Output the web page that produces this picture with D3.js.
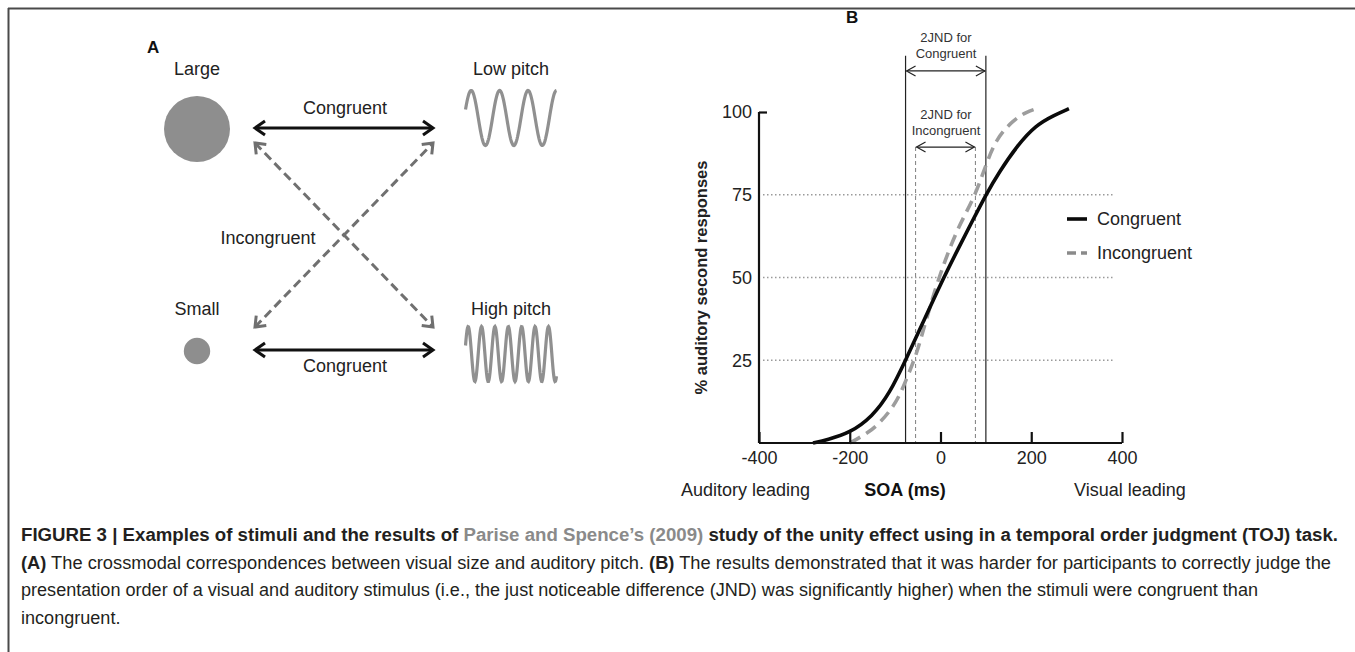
<!DOCTYPE html>
<html>
<head>
<meta charset="utf-8">
<script src="https://cdn.jsdelivr.net/npm/d3@7"></script>
<style>
body { margin: 0; background: #fff; }
svg { display: block; font-family: "Liberation Sans", Arial, sans-serif; }
</style>
</head>
<body>
<svg></svg>
<script>
const width = 1355;
const height = 652;

// panel A: stimuli
const visualLabels = ['Large', 'Small'];
const auditoryLabels = ['Low pitch', 'High pitch'];
const visualSize = [1, 0.4];
const pitchCycles = [3.2, 6.8];
const pairFrom = [0, 1, 0, 1];
const pairTo = [0, 1, 1, 0];
const pairType = ['Congruent', 'Congruent', 'Incongruent', 'Incongruent'];

// panel B: psychometric curves
const xTicks = [-400, -200, 0, 200, 400];
const yTicks = [25, 50, 75, 100];
const gridTicks = [25, 50, 75];
const congruentSOA = [-281, -250, -200, -150, -112, -77, -40, 0, 40, 70, 100, 130, 170, 210, 250, 283];
const congruentPct = [0, 1, 3, 8, 15, 25, 36, 48, 59, 67, 75, 82, 90, 96, 99, 101];
const incongruentSOA = [-200, -160, -134, -97, -73, -55, -40, -9, 26, 50, 77, 100, 123, 160, 189, 211];
const incongruentPct = [0, 3, 6, 12, 20, 26, 33, 48, 61, 68, 75, 84, 92, 97.5, 100, 101];
const jndCongruent = [-77, 100];
const jndIncongruent = [-55, 77];
const seriesNames = ['Congruent', 'Incongruent'];

const captionLines = [
    [['FIGURE 3 | Examples of stimuli and the results of ', 'b'], ['Parise and Spence\u2019s (2009)', 'c'], [' study of the unity effect using in a temporal order judgment (TOJ) task.', 'b']],
    [['(A)', 'b'], [' The crossmodal correspondences between visual size and auditory pitch. ', 'n'], ['(B)', 'b'], [' The results demonstrated that it was harder for participants to correctly judge the', 'n']],
    [['presentation order of a visual and auditory stimulus (i.e., the just noticeable difference (JND) was significantly higher) when the stimuli were congruent than', 'n']],
    [['incongruent.', 'n']]
];
const captionEnds = [1338, 1331, 1258, null];

const svg = d3.select('svg').attr('width', width).attr('height', height);

// frame
svg.append('line').attr('x1', 8).attr('x2', width).attr('y1', 8.5).attr('y2', 8.5)
    .attr('stroke', '#4a4a4a').attr('stroke-width', 2);
svg.append('line').attr('x1', 8.5).attr('x2', 8.5).attr('y1', 8).attr('y2', height)
    .attr('stroke', '#4a4a4a').attr('stroke-width', 2);

const defs = svg.append('defs');
const addHead = (id, color, w, len, half) => {
    defs.append('marker')
        .attr('id', id)
        .attr('viewBox', `${-len - 3} ${-half - 3} ${len + 6} ${2 * half + 6}`)
        .attr('refX', 0).attr('refY', 0)
        .attr('markerWidth', len + 6).attr('markerHeight', 2 * half + 6)
        .attr('markerUnits', 'userSpaceOnUse')
        .attr('orient', 'auto-start-reverse')
        .append('path')
        .attr('d', `M${-len},${-half}L0,0L${-len},${half}`)
        .attr('fill', 'none').attr('stroke', color).attr('stroke-width', w)
        .attr('stroke-linejoin', 'miter');
};
addHead('hBlack', '#111', 3, 10, 7);
addHead('hGray', '#707070', 3, 9, 7);
addHead('hThin', '#222', 1.2, 9, 5);

// ---------- panel A ----------
const gA = svg.append('g');
gA.append('text').attr('x', 147).attr('y', 53).text('A')
    .attr('font-weight', 'bold').attr('font-size', 17).attr('fill', '#111');

const colX = d3.scalePoint().domain(['visual', 'auditory']).range([197, 511]);
const arrowX = d3.scalePoint().domain(['visual', 'auditory']).range([255, 433]);
const rowY = d3.scalePoint().domain([0, 1]).range([128, 350]);
const diagY = d3.scalePoint().domain([0, 1]).range([143, 327]);
const labelY = d3.scalePoint().domain([0, 1]).range([69, 309]);
const waveY = d3.scalePoint().domain([0, 1]).range([118, 354]);
const rScale = d3.scaleLinear().domain([0, 1]).range([0, 33]);

gA.selectAll('circle.stim').data(visualSize).enter().append('circle')
    .attr('cx', colX('visual'))
    .attr('cy', (d, i) => rowY(i) + 1)
    .attr('r', d => rScale(d))
    .attr('fill', '#8e8e8e');

gA.selectAll('text.vis').data(visualLabels).enter().append('text')
    .attr('x', colX('visual')).attr('y', (d, i) => labelY(i))
    .attr('dy', '0.35em').attr('text-anchor', 'middle')
    .attr('font-size', 18).attr('fill', '#222').text(d => d);

gA.selectAll('text.aud').data(auditoryLabels).enter().append('text')
    .attr('x', colX('auditory')).attr('y', (d, i) => labelY(i))
    .attr('dy', '0.35em').attr('text-anchor', 'middle')
    .attr('font-size', 18).attr('fill', '#222').text(d => d);

// tone glyphs
const waveW = 91;
pitchCycles.forEach((cyc, i) => {
    const pts = d3.range(0, waveW + 0.5, 0.5).map(t => {
        const ph = 2 * Math.PI * cyc * t / waveW + Math.PI * 0.1;
        return [colX('auditory') - waveW / 2 + t, waveY(i) - 27.5 * Math.sin(ph)];
    });
    gA.append('path').attr('d', d3.line()(pts))
        .attr('fill', 'none').attr('stroke', '#909090').attr('stroke-width', 3.2);
});

// pairing arrows
pairType.forEach((t, i) => {
    const straight = pairFrom[i] === pairTo[i];
    const y1 = straight ? rowY(pairFrom[i]) : diagY(pairFrom[i]);
    const y2 = straight ? rowY(pairTo[i]) : diagY(pairTo[i]);
    gA.append('line')
        .attr('x1', arrowX('visual')).attr('y1', y1)
        .attr('x2', arrowX('auditory')).attr('y2', y2)
        .attr('stroke', straight ? '#111' : '#707070')
        .attr('stroke-width', 3)
        .attr('stroke-dasharray', straight ? null : '9,5')
        .attr('marker-start', straight ? 'url(#hBlack)' : 'url(#hGray)')
        .attr('marker-end', straight ? 'url(#hBlack)' : 'url(#hGray)');
});
gA.append('text').attr('x', 345).attr('y', rowY(0) - 20).attr('dy', '0.35em')
    .attr('text-anchor', 'middle').attr('font-size', 18).attr('fill', '#222').text(pairType[0]);
gA.append('text').attr('x', 345).attr('y', rowY(1) + 16).attr('dy', '0.35em')
    .attr('text-anchor', 'middle').attr('font-size', 18).attr('fill', '#222').text(pairType[1]);
gA.append('text').attr('x', 268).attr('y', 238).attr('dy', '0.35em')
    .attr('text-anchor', 'middle').attr('font-size', 18).attr('fill', '#222').text(pairType[2]);

// ---------- panel B ----------
const x = d3.scaleLinear().domain([-400, 400]).range([759, 1122]);
const y = d3.scaleLinear().domain([0, 100]).range([443, 112]);
const gB = svg.append('g');

gB.append('text').attr('x', 846).attr('y', 23).text('B')
    .attr('font-weight', 'bold').attr('font-size', 17).attr('fill', '#111');

// dotted grid
gB.selectAll('line.grid').data(gridTicks).enter().append('line')
    .attr('x1', x(-400) + 4).attr('x2', x(380))
    .attr('y1', d => y(d)).attr('y2', d => y(d))
    .attr('stroke', '#9a9a9a').attr('stroke-width', 1.3)
    .attr('stroke-dasharray', '1.5,2.5');

// JND lines
gB.selectAll('line.jc').data(jndCongruent).enter().append('line')
    .attr('x1', d => x(d)).attr('x2', d => x(d))
    .attr('y1', y(117)).attr('y2', y(0))
    .attr('stroke', '#222').attr('stroke-width', 1.2);
gB.selectAll('line.ji').data(jndIncongruent).enter().append('line')
    .attr('x1', d => x(d)).attr('x2', d => x(d))
    .attr('y1', y(89.4)).attr('y2', y(0))
    .attr('stroke', '#8a8a8a').attr('stroke-width', 1.1)
    .attr('stroke-dasharray', '4,3');
gB.append('line')
    .attr('x1', x(jndCongruent[0]) + 1).attr('x2', x(jndCongruent[1]) - 1)
    .attr('y1', y(112.4)).attr('y2', y(112.4))
    .attr('stroke', '#222').attr('stroke-width', 1.2)
    .attr('marker-start', 'url(#hThin)').attr('marker-end', 'url(#hThin)');
gB.append('line')
    .attr('x1', x(jndIncongruent[0]) + 1).attr('x2', x(jndIncongruent[1]) - 1)
    .attr('y1', y(89.4)).attr('y2', y(89.4))
    .attr('stroke', '#222').attr('stroke-width', 1.2)
    .attr('marker-start', 'url(#hThin)').attr('marker-end', 'url(#hThin)');

const jndText = (cx, cy, lines) => {
    lines.forEach((l, i) => {
        gB.append('text').attr('x', cx).attr('y', cy + i * 16).attr('dy', '0.35em')
            .attr('text-anchor', 'middle').attr('font-size', 13).attr('fill', '#333').text(l);
    });
};
jndText(946, 37, ['2JND  for', seriesNames[0]]);
jndText(946, 114, ['2JND  for', seriesNames[1]]);

// curves
const line = d3.line().x(d => x(d[0])).y(d => y(d[1])).curve(d3.curveBasis);
gB.append('path')
    .attr('d', line(d3.zip(incongruentSOA, incongruentPct)))
    .attr('fill', 'none').attr('stroke', '#9d9d9d').attr('stroke-width', 3.6)
    .attr('stroke-dasharray', '12,7');
gB.append('path')
    .attr('d', line(d3.zip(congruentSOA, congruentPct)))
    .attr('fill', 'none').attr('stroke', '#0a0a0a').attr('stroke-width', 3.6);

// axes
const xAxis = d3.axisBottom(x).tickValues(xTicks).tickFormat(d => String(d))
    .tickSize(-11).tickSizeOuter(0).tickPadding(8);
const yAxis = d3.axisLeft(y).tickValues(yTicks).tickFormat(d => String(d))
    .tickSize(-8).tickSizeOuter(0).tickPadding(7);

const gx = gB.append('g').attr('transform', `translate(0,${y(0)})`).call(xAxis);
const gy = gB.append('g').attr('transform', `translate(${x(-400)},0)`).call(yAxis);
[gx, gy].forEach(g => {
    g.select('.domain').attr('stroke', '#111').attr('stroke-width', 2.2);
    g.selectAll('.tick line').attr('stroke', '#111').attr('stroke-width', 2.2);
    g.selectAll('.tick text').attr('font-size', 18).attr('fill', '#222')
        .attr('font-family', '"Liberation Sans", Arial, sans-serif');
});
gy.selectAll('.tick').filter(d => d !== 100).select('line').remove();
gy.select('.domain').attr('d', `M0,${y(0)}V${y(100)}`);
gx.select('.domain').attr('d', `M${x(-400)},0H${x(400)}`);

gB.append('text')
    .attr('transform', `translate(701,${y(50)}) rotate(-90)`)
    .attr('text-anchor', 'middle').attr('dy', '0.35em')
    .attr('font-size', 16.5).attr('font-weight', 'bold').attr('fill', '#222')
    .text('% auditory second responses');

gB.append('text').attr('x', 681).attr('y', 490).attr('dy', '0.35em')
    .attr('font-size', 18).attr('fill', '#222').text('Auditory leading');
gB.append('text').attr('x', 905).attr('y', 490).attr('dy', '0.35em').attr('text-anchor', 'middle')
    .attr('font-size', 18).attr('font-weight', 'bold').attr('fill', '#111').text('SOA (ms)');
gB.append('text').attr('x', 1074).attr('y', 490).attr('dy', '0.35em')
    .attr('font-size', 18).attr('fill', '#222').text('Visual leading');

// legend
const legend = gB.selectAll('g.leg').data(seriesNames).enter().append('g')
    .attr('transform', (d, i) => `translate(1067,${219 + i * 34})`);
legend.append('line').attr('x1', 0).attr('x2', 20).attr('y1', 0).attr('y2', 0)
    .attr('stroke', (d, i) => i ? '#8a8a8a' : '#0a0a0a').attr('stroke-width', 3.6)
    .attr('stroke-dasharray', (d, i) => i ? '9,5' : null);
legend.append('text').attr('x', 30).attr('y', 0).attr('dy', '0.35em')
    .attr('font-size', 18).attr('fill', '#222').text(d => d);

// ---------- caption ----------
const cap = svg.append('g')
    .attr('font-family', '"Liberation Sans Narrow", "Liberation Sans", Arial, sans-serif')
    .attr('font-size', 17.5);
let squeeze = 1;
captionLines.forEach((parts, i) => {
    const t = cap.append('text').attr('x', 21).attr('y', 541 + i * 27.5);
    parts.forEach(p => {
        t.append('tspan').text(p[0])
            .attr('font-weight', p[1] === 'n' ? 'normal' : 'bold')
            .attr('fill', p[1] === 'c' ? '#8a8a8a' : '#231f20');
    });
    const natural = t.node().getComputedTextLength();
    // short last line keeps the same squeeze as the full lines
    const target = captionEnds[i] ? captionEnds[i] - 21 : natural * squeeze;
    if (captionEnds[i]) squeeze = target / natural;
    t.attr('textLength', target).attr('lengthAdjust', 'spacingAndGlyphs');
});
</script>
</body>
</html>
